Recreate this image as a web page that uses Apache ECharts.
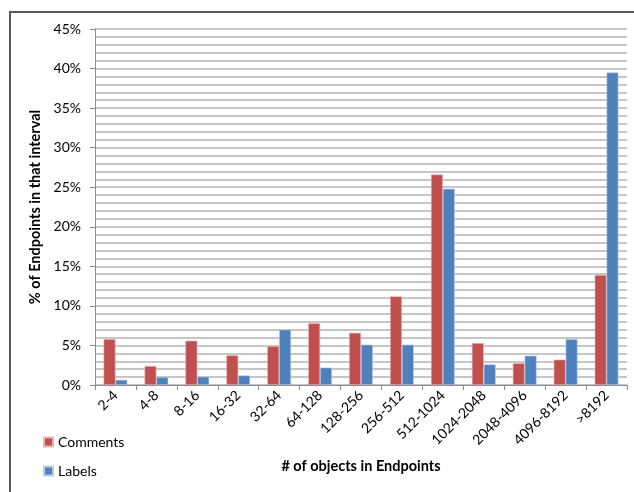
<!DOCTYPE html>
<html>
<head>
<meta charset="utf-8">
<script src="https://cdn.jsdelivr.net/npm/echarts@6/dist/echarts.min.js"></script>
<style>
  html, body { margin: 0; padding: 0; background: #fff; }
  #chart { width: 634px; height: 492px; }
</style>
</head>
<body>
<div id="chart"></div>
<script>
// Size intervals (# of objects per endpoint)
const categories = ['2-4', '4-8', '8-16', '16-32', '32-64', '64-128', '128-256',
  '256-512', '512-1024', '1024-2048', '2048-4096', '4096-8192', '>8192'];

// Share of endpoints in each interval, percent
const comments = [5.8, 2.4, 5.6, 3.75, 4.9, 7.8, 6.6, 11.2, 26.6, 5.3, 2.75, 3.2, 13.9];
const labels   = [0.65, 1.0, 1.05, 1.2, 7.0, 2.2, 5.1, 5.1, 24.8, 2.6, 3.7, 5.8, 39.5];

const FONT = 'Lato, "Open Sans", sans-serif';
const GRID_COLOR = '#b4b4b4';

const chart = echarts.init(document.getElementById('chart'), null, { renderer: 'canvas' });

chart.setOption({
  animation: false,
  textStyle: { fontFamily: FONT },
  graphic: [{
    type: 'rect',
    shape: { x: 10, y: 12, width: 700, height: 600 },
    style: { fill: 'none', stroke: '#5a5a5a', lineWidth: 2 },
    silent: true
  }],
  grid: { left: 95, right: 7, top: 29, bottom: 107, containLabel: false },
  legend: {
    orient: 'vertical',
    left: 38,
    top: 430,
    itemGap: 15,
    itemWidth: 9,
    itemHeight: 9,
    icon: 'rect',
    textStyle: { fontSize: 14, color: '#000', fontFamily: FONT },
    data: ['Comments', 'Labels']
  },
  xAxis: {
    type: 'category',
    data: categories,
    name: '# of objects in Endpoints',
    nameLocation: 'middle',
    nameGap: 74,
    nameTextStyle: { fontSize: 14.5, fontWeight: 'bold', color: '#000', fontFamily: FONT },
    axisLine: { lineStyle: { color: '#8c8c8c', width: 1 } },
    axisTick: { show: true, alignWithLabel: false, length: 5, lineStyle: { color: '#8c8c8c' } },
    axisLabel: { rotate: 45, fontSize: 14, color: '#000', margin: 8, interval: 0, fontFamily: FONT }
  },
  yAxis: {
    type: 'value',
    min: 0,
    max: 45,
    interval: 5,
    name: '% of Endpoints in that interval',
    nameLocation: 'middle',
    nameGap: 47,
    nameTextStyle: { fontSize: 14.5, fontWeight: 'bold', color: '#000', fontFamily: FONT },
    axisLine: { show: true, lineStyle: { color: '#8c8c8c', width: 1 } },
    axisTick: { show: true, length: 5, lineStyle: { color: '#8c8c8c' } },
    axisLabel: { formatter: '{value}%', fontSize: 14, color: '#000', margin: 14, fontFamily: FONT },
    splitLine: { show: true, lineStyle: { color: GRID_COLOR, width: 1.5 } },
    minorTick: { show: false, splitNumber: 5 },
    minorSplitLine: { show: true, lineStyle: { color: GRID_COLOR, width: 1.5 } }
  },
  series: [
    {
      name: 'Comments',
      type: 'bar',
      data: comments,
      barGap: '0%',
      barCategoryGap: '42%',
      itemStyle: { color: '#c0504d', borderColor: '#e6b4b3', borderWidth: 0.6 }
    },
    {
      name: 'Labels',
      type: 'bar',
      data: labels,
      itemStyle: { color: '#4f81bd', borderColor: '#b9cde5', borderWidth: 0.6 }
    }
  ]
});
</script>
</body>
</html>
